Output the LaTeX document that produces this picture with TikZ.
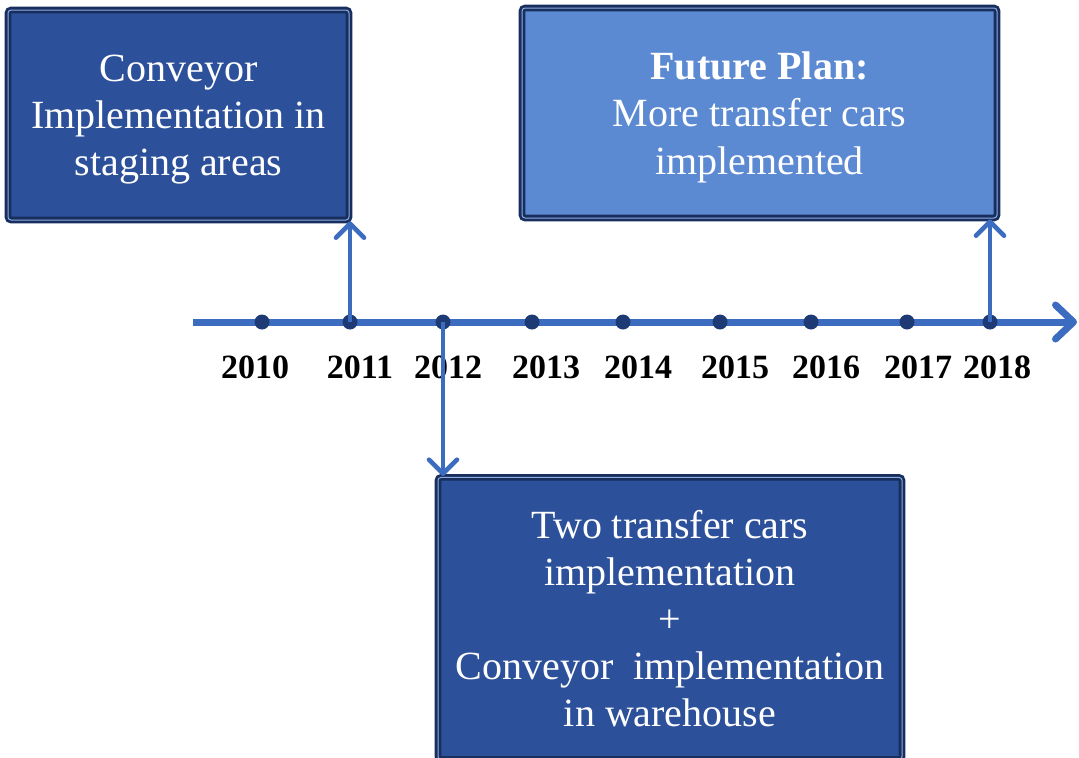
\documentclass[tikz,border=0pt]{standalone}
\usepackage{fontspec}
\setmainfont{Liberation Serif}
\usetikzlibrary{arrows.meta, positioning}

\definecolor{boxdark}{RGB}{44,80,154}
\definecolor{boxlight}{RGB}{92,138,210}
\definecolor{rimnavy}{RGB}{24,46,94}
\definecolor{lineblue}{RGB}{60,108,192}
\definecolor{dotnavy}{RGB}{30,58,116}

\tikzset{
    phase/.style={draw=rimnavy, line width=1.4pt, double=boxlight!70!white,
        double distance=0.5pt, rounded corners=1.5pt, text=white, align=center,
        font=\fontsize{20}{23.6}\selectfont, inner sep=0pt, text depth=-0.5pt},
    axis/.style={lineblue, line width=3.5pt,
        -{Straight Barb[length=9pt, width=17pt, round]}},
    link/.style={lineblue, line width=2.3pt,
        -{Straight Barb[length=7pt, width=14pt, round]}},
    tick/.style={circle, fill=dotnavy, inner sep=0pt, minimum size=7.5pt},
    year/.style={font=\fontsize{17}{20}\selectfont\bfseries, inner sep=0pt}
}

\begin{document}
\begin{tikzpicture}[x=0.5pt, y=-0.5pt]
    \useasboundingbox (0,0) rectangle (1079,757);

    % Milestone boxes
    \node[phase, fill=boxdark, minimum width=170.5pt, minimum height=105pt] (conv) at (178.5,115)
        {Conveyor\\Implementation in\\staging areas};
    \node[phase, fill=boxlight, minimum width=237.5pt, minimum height=105pt] (future) at (759.5,113)
        {\textbf{Future Plan:}\\More transfer cars\\implemented};
    \node[phase, fill=boxdark, minimum width=232pt, minimum height=141pt, anchor=north] (cars) at (670,476)
        {Two transfer cars\\implementation\\+\\Conveyor\ \ implementation\\in warehouse};

    % Time axis
    \coordinate (start) at (193,322);
    \coordinate (end) at (1077,322);
    \draw[axis] (start) -- (end);

    % Years
    \foreach \yr/\dx/\lx in {2010/262/255, 2011/350/360, 2012/443/448, 2013/532/546,
            2014/623/638, 2015/720/735, 2016/811/826, 2017/907/918, 2018/990/997} {
        \node[tick] (d\yr) at (\dx,322) {};
        \node[year] (y\yr) at (\lx,367) {\yr};
    }

    % Links to milestones
    \draw[link] (d2011.center) -- (d2011 |- conv.south);
    \draw[link] (d2012.center) -- (d2012 |- cars.north);
    \draw[link] (d2018.center) -- (d2018 |- future.south);
\end{tikzpicture}
\end{document}
